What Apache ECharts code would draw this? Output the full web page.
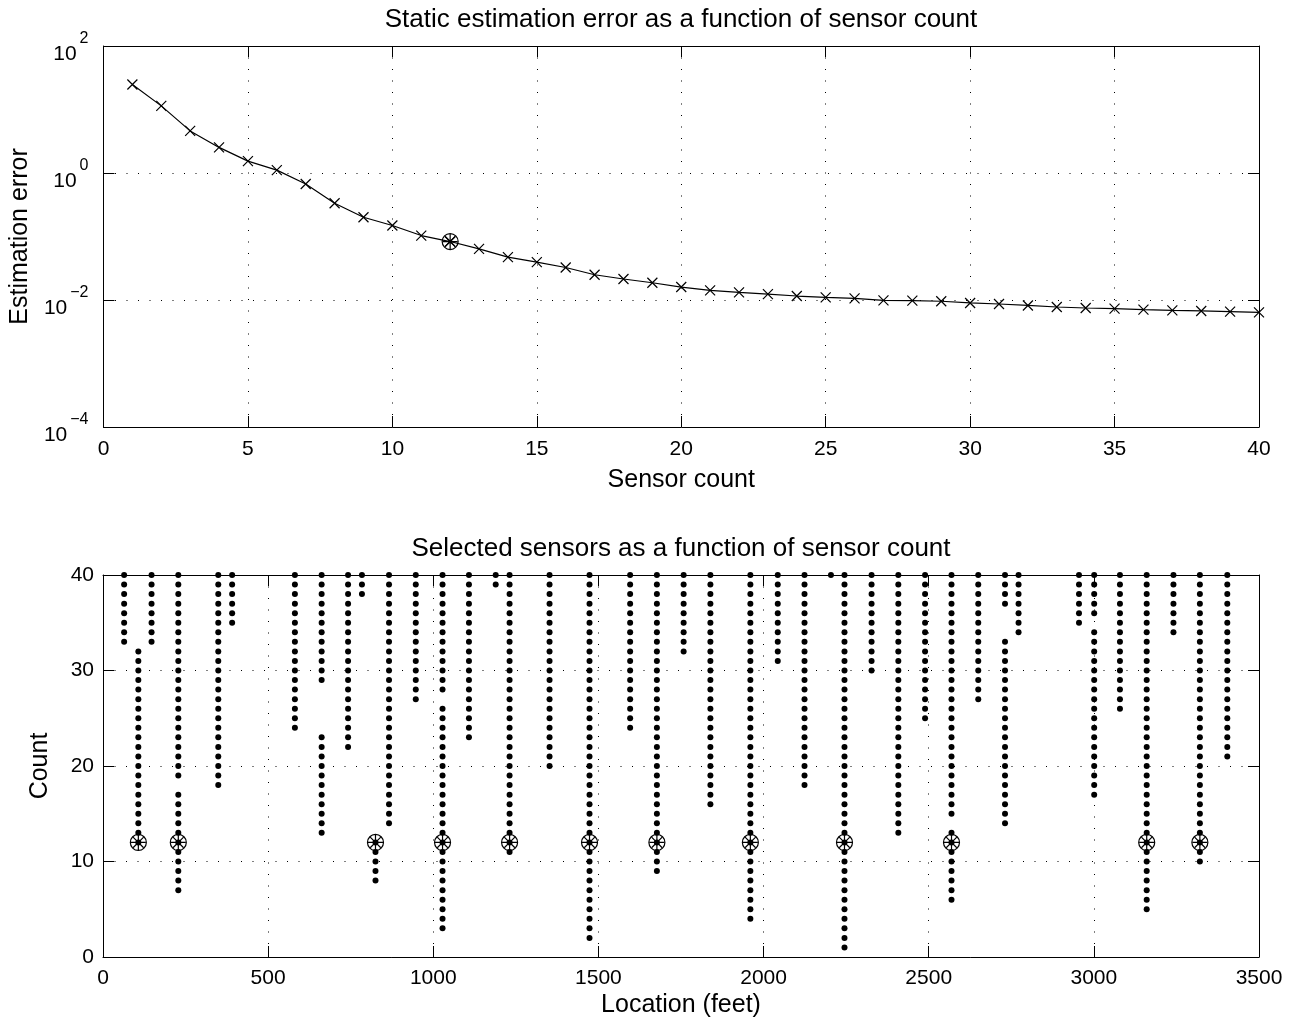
<!DOCTYPE html>
<html>
<head>
<meta charset="utf-8">
<script src="https://cdn.jsdelivr.net/npm/echarts@6/dist/echarts.min.js"></script>
<style>
html, body { margin: 0; padding: 0; background: #fff; }
#chart { width: 1296px; height: 1023px; }
</style>
</head>
<body>
<div id="chart"></div>
<script>
// top panel: error for each sensor count
const sensorCounts = [1, 2, 3, 4, 5, 6, 7, 8, 9, 10, 11, 12, 13, 14, 15, 16, 17, 18, 19, 20,
	21, 22, 23, 24, 25, 26, 27, 28, 29, 30, 31, 32, 33, 34, 35, 36, 37, 38, 39, 40]
const estimationError = [24.8, 11.4, 4.6, 2.53, 1.54, 1.11, 0.672, 0.334, 0.201, 0.149,
	0.1035, 0.0833, 0.064, 0.0473, 0.0395, 0.0325, 0.025, 0.0214, 0.0187, 0.016,
	0.01415, 0.0132, 0.0124, 0.01155, 0.011, 0.0106, 0.00989, 0.00977, 0.00955, 0.00898,
	0.00865, 0.0082, 0.00776, 0.00748, 0.0073, 0.00704, 0.00687, 0.00672, 0.00655, 0.00638]
const selectedCount = 12

// bottom panel: sensor locations and the count ranges where each one is selected
const sensorLocations = [64, 107, 147, 228, 349, 391, 581, 662, 742, 784, 825, 866, 947, 1028,
	1108, 1189, 1231, 1352, 1473, 1596, 1677, 1758, 1839, 1960, 2043, 2124, 2204, 2245,
	2327, 2408, 2489, 2569, 2650, 2731, 2772, 2955, 3001, 3079, 3160, 3241, 3321, 3404]
const selectedSpans = [
	[[33, 40]], [[12, 32]], [[33, 40]], [[7, 17], [19, 40]], [[18, 40]], [[35, 40]],
	[[24, 40]], [[13, 23], [29, 40]], [[22, 40]], [[38, 40]], [[8, 12]], [[14, 40]],
	[[27, 40]], [[3, 26], [28, 40]], [[23, 40]], [[39, 40]], [[11, 40]], [[20, 40]],
	[[2, 40]], [[24, 40]], [[9, 40]], [[32, 40]], [[16, 40]], [[4, 40]], [[31, 40]],
	[[18, 40]], [[40, 40]], [[1, 40]], [[30, 40]], [[13, 40]], [[25, 40]],
	[[6, 13], [15, 40]], [[27, 40]], [[14, 33], [37, 40]], [[34, 40]], [[35, 40]],
	[[17, 34], [36, 40]], [[26, 40]], [[5, 40]], [[34, 40]], [[10, 40]], [[21, 40]]
]

const font = 'Liberation Sans, Arial, Helvetica, sans-serif'
const crossPath = 'path://M0,0L10,10M0,10L10,0'
const starPath = 'path://M0,-10L0,10M-10,0L10,0M-7.07,-7.07L7.07,7.07M-7.07,7.07L7.07,-7.07'

const errorLine = sensorCounts.map((c, i) => [c, estimationError[i]])
const selectedError = [[selectedCount, estimationError[selectedCount - 1]]]

const dots = []
const chosen = []
sensorLocations.forEach((loc, i) => {
	selectedSpans[i].forEach(([lo, hi]) => {
		for (let n = lo; n <= hi; n++) dots.push([loc, n])
		if (selectedCount >= lo && selectedCount <= hi) chosen.push([loc, selectedCount])
	})
})

const dotted = { show: true, lineStyle: { color: '#000', width: 1, type: [1, 10.5] } }
const tick = { show: true, inside: true, length: 11, lineStyle: { color: '#000', width: 1 } }
const line = { show: true, onZero: false, lineStyle: { color: '#000', width: 1 } }
const label = { color: '#000', fontSize: 21, fontFamily: font, formatter: (v) => String(v) }
const openMark = { color: 'transparent', borderColor: '#000', borderWidth: 1.2, opacity: 1 }

function axisPair(kind, gridIndex, extra, name, nameGap, labelExtra) {
	const main = Object.assign({
		gridIndex: gridIndex,
		type: 'value',
		position: kind === 'x' ? 'bottom' : 'left',
		axisLine: line,
		axisTick: tick,
		splitLine: dotted,
		axisLabel: Object.assign({}, label, labelExtra),
		name: name,
		nameLocation: 'middle',
		nameGap: nameGap,
		nameTextStyle: { color: '#000', fontSize: 25, fontFamily: font },
	}, extra)
	const mirror = Object.assign({}, main, {
		position: kind === 'x' ? 'top' : 'right',
		axisLabel: { show: false },
		splitLine: { show: false },
		name: '',
	})
	return [main, mirror]
}

const myChart = echarts.init(document.getElementById('chart'), null, { renderer: 'canvas' })

const option = {
	backgroundColor: '#fff',
	animation: false,
	title: [
		{
			text: 'Static estimation error as a function of sensor count',
			left: 681, top: 7, textAlign: 'center', padding: 0,
			textStyle: { color: '#000', fontSize: 26, fontWeight: 'normal', fontFamily: font },
		},
		{
			text: 'Selected sensors as a function of sensor count',
			left: 681, top: 536, textAlign: 'center', padding: 0,
			textStyle: { color: '#000', fontSize: 26, fontWeight: 'normal', fontFamily: font },
		},
	],
	grid: [
		{ left: 103, top: 46, width: 1156, height: 381 },
		{ left: 103, top: 575, width: 1156, height: 382 },
	],
	xAxis: [
		...axisPair('x', 0, { min: 0, max: 40, interval: 5 }, 'Sensor count', 41, { margin: 12 }),
		...axisPair('x', 1, { min: 0, max: 3500, interval: 500 }, 'Location (feet)', 36, { margin: 11 }),
	],
	yAxis: [
		...axisPair('y', 0, { type: 'log', logBase: 10, min: 1e-4, max: 1e2, interval: 2 }, 'Estimation error', 67, {
			margin: 15,
			formatter: (v) => {
				const e = Math.round(Math.log10(v))
				return '{b|10}{e|' + (e < 0 ? '\u2212' + (-e) : e) + '}'
			},
			rich: {
				b: { color: '#000', fontSize: 21, fontFamily: font, padding: [16, 0, 0, 0] },
				e: { color: '#000', fontSize: 16, fontFamily: font, padding: [0, 0, 14, 3] },
			},
		}),
		...axisPair('y', 1, { min: 0, max: 40, interval: 10 }, 'Count', 50, { margin: 9 }),
	],
	series: [
		{
			type: 'line',
			xAxisIndex: 0, yAxisIndex: 0,
			data: errorLine,
			symbol: crossPath,
			symbolSize: 10,
			showAllSymbol: true,
			lineStyle: { color: '#000', width: 1.2 },
			itemStyle: openMark,
		},
		{
			type: 'scatter',
			xAxisIndex: 0, yAxisIndex: 0,
			data: selectedError,
			symbol: 'circle',
			symbolSize: 16,
			itemStyle: openMark,
		},
		{
			type: 'scatter',
			xAxisIndex: 0, yAxisIndex: 0,
			data: selectedError,
			symbol: starPath,
			symbolSize: 15,
			itemStyle: openMark,
		},
		{
			type: 'scatter',
			xAxisIndex: 2, yAxisIndex: 2,
			data: dots,
			symbol: 'circle',
			symbolSize: 6,
			itemStyle: { color: '#000', opacity: 1 },
		},
		{
			type: 'scatter',
			xAxisIndex: 2, yAxisIndex: 2,
			data: chosen,
			symbol: 'circle',
			symbolSize: 16,
			itemStyle: openMark,
		},
		{
			type: 'scatter',
			xAxisIndex: 2, yAxisIndex: 2,
			data: chosen,
			symbol: starPath,
			symbolSize: 15,
			itemStyle: openMark,
		},
	],
}

myChart.setOption(option)
</script>
</body>
</html>
